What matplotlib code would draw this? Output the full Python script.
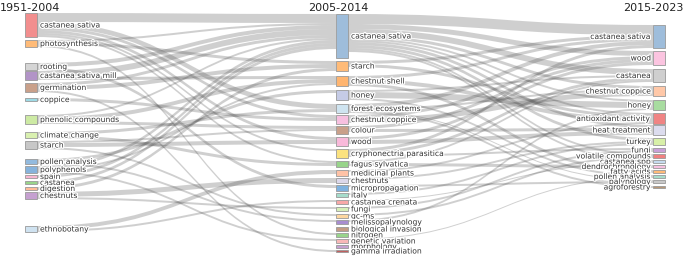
import matplotlib
matplotlib.use("Agg")
import matplotlib.pyplot as plt
from matplotlib.path import Path
from matplotlib.patches import PathPatch, Rectangle
import matplotlib.patheffects as pe

periods = ["1951-2004", "2005-2014", "2015-2023"]

kw_1951 = ["castanea sativa", "photosynthesis", "rooting", "castanea sativa mill",
           "germination", "coppice", "phenolic compounds", "climate change", "starch",
           "pollen analysis", "polyphenols", "spain", "castanea", "digestion",
           "chestnuts", "ethnobotany"]
val_1951 = [24, 7, 7, 9, 9, 3, 9, 6, 8, 5, 7, 3, 3, 3, 7, 6]

kw_2005 = ["castanea sativa", "starch", "chestnut shell", "honey", "forest ecosystems",
           "chestnut coppice", "colour", "wood", "cryphonectria parasitica",
           "fagus sylvatica", "medicinal plants", "chestnuts", "micropropagation", "italy",
           "castanea crenata", "fungi", "gc-ms", "melissopalynology", "biological invasion",
           "nitrogen", "genetic variation", "morphology", "gamma irradiation"]
val_2005 = [44, 10, 10, 10, 9, 9, 8, 9, 9, 6, 6, 5, 6, 4, 4, 4, 4, 4, 4, 4, 4, 3, 2]

kw_2015 = ["castanea sativa", "wood", "castanea", "chestnut coppice", "honey",
           "antioxidant activity", "heat treatment", "turkey", "fungi",
           "volatile compounds", "castanea spp", "dendrochronology", "fatty acids",
           "pollen analysis", "palynology", "agroforestry"]
val_2015 = [23, 14, 13, 10, 10, 11, 10, 7, 4, 4, 3, 3, 3, 3, 3, 2]

# keyword flows 1951-2004 -> 2005-2014
flows_a = [
    ("castanea sativa", "castanea sativa", 9), ("castanea sativa", "forest ecosystems", 5),
    ("castanea sativa", "chestnut coppice", 3), ("castanea sativa", "wood", 3),
    ("castanea sativa", "cryphonectria parasitica", 2), ("castanea sativa", "fagus sylvatica", 2),
    ("photosynthesis", "starch", 3), ("photosynthesis", "castanea sativa", 2),
    ("photosynthesis", "nitrogen", 2),
    ("rooting", "castanea sativa", 4), ("rooting", "micropropagation", 3),
    ("castanea sativa mill", "castanea sativa", 6), ("castanea sativa mill", "chestnut shell", 3),
    ("germination", "castanea sativa", 3), ("germination", "starch", 4),
    ("germination", "gamma irradiation", 2),
    ("coppice", "chestnut coppice", 3),
    ("phenolic compounds", "chestnut shell", 4), ("phenolic compounds", "colour", 3),
    ("phenolic compounds", "castanea sativa", 2),
    ("climate change", "forest ecosystems", 3), ("climate change", "fagus sylvatica", 3),
    ("starch", "wood", 4), ("starch", "colour", 2), ("starch", "gc-ms", 2),
    ("pollen analysis", "honey", 3), ("pollen analysis", "melissopalynology", 2),
    ("polyphenols", "castanea sativa", 3), ("polyphenols", "chestnut shell", 2),
    ("polyphenols", "genetic variation", 2),
    ("spain", "castanea sativa", 3),
    ("castanea", "castanea sativa", 3),
    ("digestion", "starch", 3),
    ("chestnuts", "chestnuts", 5), ("chestnuts", "fungi", 2),
    ("ethnobotany", "medicinal plants", 4), ("ethnobotany", "castanea crenata", 2),
]

# keyword flows 2005-2014 -> 2015-2023
flows_b = [
    ("castanea sativa", "castanea sativa", 10), ("castanea sativa", "wood", 5),
    ("castanea sativa", "castanea", 6), ("castanea sativa", "chestnut coppice", 3),
    ("castanea sativa", "honey", 2), ("castanea sativa", "antioxidant activity", 2),
    ("castanea sativa", "heat treatment", 3), ("castanea sativa", "turkey", 3),
    ("castanea sativa", "volatile compounds", 2), ("castanea sativa", "castanea spp", 2),
    ("starch", "castanea sativa", 3), ("starch", "antioxidant activity", 3),
    ("chestnut shell", "castanea sativa", 3), ("chestnut shell", "antioxidant activity", 4),
    ("chestnut shell", "fatty acids", 3),
    ("honey", "castanea", 2), ("honey", "honey", 6), ("honey", "pollen analysis", 2),
    ("forest ecosystems", "castanea sativa", 4), ("forest ecosystems", "chestnut coppice", 2),
    ("forest ecosystems", "palynology", 1), ("forest ecosystems", "agroforestry", 2),
    ("chestnut coppice", "wood", 3), ("chestnut coppice", "chestnut coppice", 5),
    ("colour", "wood", 3), ("colour", "heat treatment", 3),
    ("wood", "wood", 3), ("wood", "heat treatment", 4),
    ("cryphonectria parasitica", "castanea sativa", 3), ("cryphonectria parasitica", "castanea", 3),
    ("cryphonectria parasitica", "fungi", 2),
    ("fagus sylvatica", "castanea", 2), ("fagus sylvatica", "dendrochronology", 3),
    ("medicinal plants", "antioxidant activity", 2),
    ("chestnuts", "turkey", 2),
    ("micropropagation", "palynology", 2),
    ("italy", "turkey", 2),
    ("castanea crenata", "castanea spp", 1),
    ("fungi", "fungi", 2),
    ("gc-ms", "volatile compounds", 2),
    ("melissopalynology", "honey", 2),
    ("genetic variation", "pollen analysis", 1),
]

# layout / style
gap_1951 = [13, 3, 16, 1, 3, 6, 14, 8, 3, 10, 2, 2, 3, 3, 2, 27]
gap_2005 = [14, 3, 5, 4, 4, 2, 2, 3, 3, 3, 3, 2, 2, 2, 3, 3, 3, 2, 3, 2, 2, 2, 2]
gap_2015 = [25, 3, 4, 4, 4, 3, 1, 3, 3, 2, 2, 2, 2, 2, 2, 3]

col_1951 = ["#f28e8e", "#ffbb78", "#d5d5d5", "#b294c7", "#c9a08a", "#9edae5",
            "#cdeaa4", "#d9f0b0", "#c7c7c7", "#92bade", "#86b3dc", "#f7b6d2",
            "#98d48a", "#ffbb98", "#c5a0d0", "#cfe2f0"]
col_2005 = ["#9ebddb", "#ffbb78", "#ffb570", "#c5cbe6", "#cfe4f0", "#f7c0e0",
            "#c9a08a", "#f9b9da", "#fbe27f", "#98d48a", "#ffc2a6", "#dcd8ea",
            "#7fb2df", "#a6dccb", "#f7a8a8", "#d6efb8", "#fdd7a0", "#a88dd0",
            "#c49c85", "#98d48a", "#f8b8b8", "#c5a0d0", "#c06060"]
col_2015 = ["#9ebddb", "#fbc4e0", "#cfcfcf", "#ffc8a8", "#a8dca0", "#f08484",
            "#dcdcee", "#d8f0a8", "#c9a0d8", "#f08080", "#c6dbef", "#f7c0e0",
            "#ffbb78", "#a6dcc8", "#c8c8c8", "#b89878"]

col_x = [25, 336, 653]
node_w = 12

fig = plt.figure(figsize=(6.85, 2.6), dpi=100)
ax = fig.add_axes([0, 0, 1, 1])
ax.set_xlim(0, 685)
ax.set_ylim(260, 0)
ax.axis("off")

columns = [(kw_1951, val_1951, gap_1951, col_1951),
           (kw_2005, val_2005, gap_2005, col_2005),
           (kw_2015, val_2015, gap_2015, col_2015)]

tops = []
for names, vals, gaps, cols in columns:
    y = 0
    t = {}
    for n, v, g in zip(names, vals, gaps):
        y += g
        t[n] = y
        y += v
    tops.append(t)


def draw_flows(flows, c):
    st, dt = tops[c], tops[c + 1]
    x0 = col_x[c] + node_w
    x1 = col_x[c + 1]
    xm = (x0 + x1) / 2
    y0s, y1s = {}, {}
    off = {}
    for i in sorted(range(len(flows)), key=lambda i: (st[flows[i][0]], dt[flows[i][1]])):
        s, d, v = flows[i]
        y0s[i] = st[s] + off.get(s, 0)
        off[s] = off.get(s, 0) + v
    off = {}
    for i in sorted(range(len(flows)), key=lambda i: (dt[flows[i][1]], st[flows[i][0]])):
        s, d, v = flows[i]
        y1s[i] = dt[d] + off.get(d, 0)
        off[d] = off.get(d, 0) + v
    for i, (s, d, v) in enumerate(flows):
        y0, y1 = y0s[i], y1s[i]
        verts = [(x0, y0), (xm, y0), (xm, y1), (x1, y1),
                 (x1, y1 + v), (xm, y1 + v), (xm, y0 + v), (x0, y0 + v), (x0, y0)]
        codes = [Path.MOVETO, Path.CURVE4, Path.CURVE4, Path.CURVE4,
                 Path.LINETO, Path.CURVE4, Path.CURVE4, Path.CURVE4, Path.CLOSEPOLY]
        ax.add_patch(PathPatch(Path(verts, codes), facecolor="#505050",
                               edgecolor="none", alpha=0.27, zorder=1))


draw_flows(flows_a, 0)
draw_flows(flows_b, 1)

halo = [pe.withStroke(linewidth=1.8, foreground="white")]
for c, (names, vals, gaps, cols) in enumerate(columns):
    for n, v, fc in zip(names, vals, cols):
        top = tops[c][n]
        ax.add_patch(Rectangle((col_x[c], top), node_w, v, facecolor=fc,
                               edgecolor="#999999", lw=0.6, zorder=2))
        if c < 2:
            ax.text(col_x[c] + node_w + 3, top + v / 2, n, fontsize=5.5, color="#333333",
                    ha="left", va="center", zorder=3, path_effects=halo)
        else:
            ax.text(col_x[c] - 2, top + v / 2, n, fontsize=5.5, color="#333333",
                    ha="right", va="center", zorder=3, path_effects=halo)

ax.text(0, 8, periods[0], fontsize=8, color="#222222", ha="left", va="center")
ax.text(338, 8, periods[1], fontsize=8, color="#222222", ha="center", va="center")
ax.text(684, 8, periods[2], fontsize=8, color="#222222", ha="right", va="center")

fig.savefig("out.png", dpi=100)
